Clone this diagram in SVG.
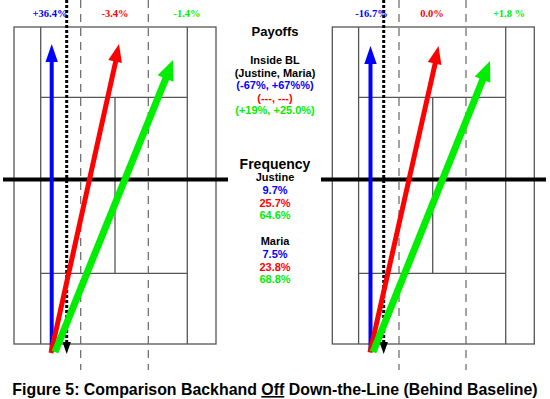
<svg xmlns="http://www.w3.org/2000/svg" width="550" height="399" viewBox="0 0 550 399">
<style>
.court{fill:none;stroke:#555;stroke-width:1.3}
.net{stroke:#000;stroke-width:4}
.dash{stroke:#666;stroke-width:1.2;stroke-dasharray:8 6}
.dot{stroke:#000;stroke-width:3;stroke-dasharray:3 2}
.pct{font-family:"Liberation Serif",serif;font-weight:bold;font-size:10.5px;text-anchor:middle}
.t{font-family:"Liberation Sans",Arial,sans-serif;font-weight:bold;text-anchor:middle}
.b{fill:#0000ff}.r{fill:#ff0000}.g{fill:#00ee00}
</style>
<rect width="550" height="399" fill="#fff"/>
<g id="court-left">
<rect class="court" x="14" y="27" width="202" height="317"/>
<line class="court" x1="40.7" y1="27" x2="40.7" y2="344"/>
<line class="court" x1="187.3" y1="27" x2="187.3" y2="344"/>
<line class="court" x1="40.7" y1="97.3" x2="187.3" y2="97.3"/>
<line class="court" x1="40.7" y1="273.3" x2="187.3" y2="273.3"/>
<line class="court" x1="115" y1="97.3" x2="115" y2="273.3"/>
<line class="net" x1="3" y1="179.5" x2="228" y2="179.5"/>
<line class="dash" x1="80.7" y1="0" x2="80.7" y2="370"/>
<line class="dash" x1="148.3" y1="0" x2="148.3" y2="370"/>
</g>
<g id="court-right">
<rect class="court" x="332.3" y="27" width="202" height="317"/>
<line class="court" x1="358.6" y1="27" x2="358.6" y2="344"/>
<line class="court" x1="505.7" y1="27" x2="505.7" y2="344"/>
<line class="court" x1="358.6" y1="97.3" x2="505.7" y2="97.3"/>
<line class="court" x1="358.6" y1="273.3" x2="505.7" y2="273.3"/>
<line class="court" x1="432.7" y1="97.3" x2="432.7" y2="273.3"/>
<line class="net" x1="321" y1="179.5" x2="546" y2="179.5"/>
<line class="dash" x1="399" y1="0" x2="399" y2="370"/>
<line class="dash" x1="466" y1="0" x2="466" y2="370"/>
</g>
<g id="connectors">
<line class="dot" x1="66.7" y1="0" x2="66.7" y2="344"/>
<polygon points="62.5,342 70.9,342 66.7,354" fill="#000"/>
<line x1="51.7" y1="352" x2="51.7" y2="60" stroke="#0000ff" stroke-width="4"/>
<polygon points="45.5,62 57.9,62 51.7,44" fill="#0000ff"/>
<line x1="51" y1="353" x2="116" y2="60" stroke="#ff0000" stroke-width="5"/>
<polygon points="121.9,63.1 108.3,60.1 119,44" fill="#ff0000"/>
<line x1="55" y1="352" x2="166" y2="78" stroke="#00ee00" stroke-width="7"/>
<polygon points="173.4,81.7 157.6,75.3 173,60" fill="#00ee00"/>
<line class="dot" x1="383.7" y1="0" x2="383.7" y2="344"/>
<polygon points="379.5,342 387.9,342 383.7,354" fill="#000"/>
<line x1="370.5" y1="352" x2="370.5" y2="62" stroke="#0000ff" stroke-width="4"/>
<polygon points="364.3,64 376.7,64 370.5,46" fill="#0000ff"/>
<line x1="370" y1="352.5" x2="435.5" y2="62" stroke="#ff0000" stroke-width="5"/>
<polygon points="441.4,65.1 427.8,62.1 438.5,46" fill="#ff0000"/>
<line x1="373" y1="352" x2="483" y2="79" stroke="#00ee00" stroke-width="7"/>
<polygon points="490.3,82.8 474.7,76.4 490,61" fill="#00ee00"/>
</g>
<g id="pct-left">
<text class="pct b" x="50" y="17">+36.4%</text>
<text class="pct r" x="115" y="17">-3.4%</text>
<text class="pct g" x="187" y="17">-1.4%</text>
</g>
<g id="pct-right">
<text class="pct b" x="371.5" y="17">-16.7%</text>
<text class="pct r" x="432" y="17">0.0%</text>
<text class="pct g" x="509" y="17">+1.8 %</text>
</g>
<g id="payoffs">
<text class="t" x="275" y="35.5" font-size="13">Payoffs</text>
<text class="t" x="275" y="64" font-size="11">Inside BL</text>
<text class="t" x="275" y="76.5" font-size="11">(Justine, Maria)</text>
<text class="t b" x="275" y="89" font-size="11">(-67%, +67%%)</text>
<text class="t r" x="275" y="101.5" font-size="11">(---, ---)</text>
<text class="t g" x="275" y="114" font-size="11">(+19%, +25.0%)</text>
</g>
<g id="frequency">
<text class="t" x="275" y="168.5" font-size="14">Frequency</text>
<text class="t" x="275" y="181" font-size="11">Justine</text>
<text class="t b" x="275" y="194" font-size="11">9.7%</text>
<text class="t r" x="275" y="206.5" font-size="11">25.7%</text>
<text class="t g" x="275" y="219" font-size="11">64.6%</text>
<text class="t" x="275" y="245" font-size="11">Maria</text>
<text class="t b" x="275" y="258" font-size="11">7.5%</text>
<text class="t r" x="275" y="270.5" font-size="11">23.8%</text>
<text class="t g" x="275" y="283" font-size="11">68.8%</text>
</g>
<g id="caption">
<text class="t" x="275" y="395" font-size="15.9">Figure 5: Comparison Backhand <tspan text-decoration="underline">Off</tspan> Down-the-Line (Behind Baseline)</text>
</g>
</svg>
